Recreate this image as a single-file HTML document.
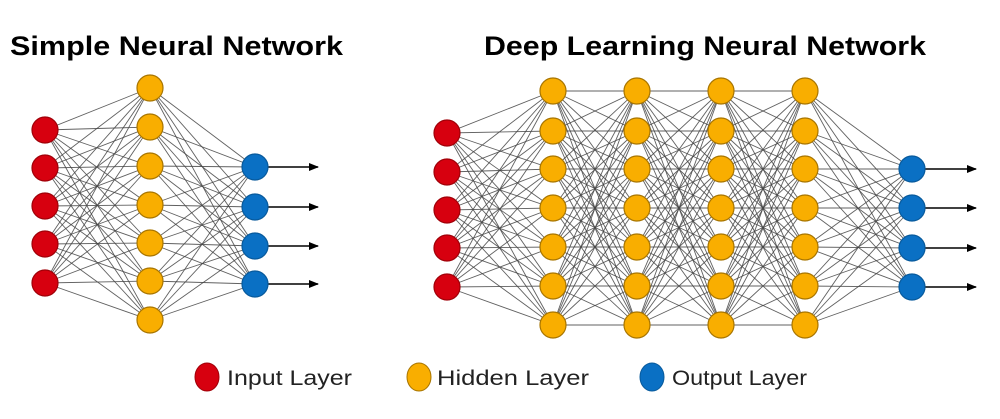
<!DOCTYPE html>
<html><head><meta charset="utf-8"><style>
html,body{margin:0;padding:0;background:#fff;}
svg{display:block;}
text{font-family:"Liberation Sans",sans-serif;}
</style></head><body>
<svg id="s" width="1000" height="419" viewBox="0 0 1000 419" xmlns="http://www.w3.org/2000/svg">
<defs><marker id="a" markerWidth="10" markerHeight="8" refX="9" refY="4" orient="auto" markerUnits="userSpaceOnUse"><path d="M0,0 L10,4 L0,8 z" fill="#000"/></marker></defs>
<g id="lines" stroke="#444" stroke-width="0.9" stroke-opacity="0.85"></g>
<g id="nodes"></g>
<text x="10" y="55" font-size="27" font-weight="bold" textLength="333" lengthAdjust="spacingAndGlyphs">Simple Neural Network</text>
<text x="484" y="55" font-size="27" font-weight="bold" textLength="442" lengthAdjust="spacingAndGlyphs">Deep Learning Neural Network</text>
<ellipse cx="207" cy="377" rx="12" ry="14" fill="#d7000f" stroke="#a00008"/>
<text x="227" y="385" font-size="21" fill="#222" textLength="125" lengthAdjust="spacingAndGlyphs">Input Layer</text>
<ellipse cx="419" cy="377" rx="12" ry="14" fill="#f9ae00" stroke="#a87500"/>
<text x="437" y="385" font-size="21" fill="#222" textLength="152" lengthAdjust="spacingAndGlyphs">Hidden Layer</text>
<ellipse cx="652" cy="377" rx="12" ry="14" fill="#0a70c4" stroke="#085a9c"/>
<text x="672" y="385" font-size="21" fill="#222" textLength="135" lengthAdjust="spacingAndGlyphs">Output Layer</text>
</svg>
<script>
var NS="http://www.w3.org/2000/svg";
var L=document.getElementById("lines"),N=document.getElementById("nodes");
var C={r:["#d7000f","#a00008"],h:["#f9ae00","#a87500"],o:["#0a70c4","#085a9c"]};
function col(x,ys,t){return {x:x,ys:ys,t:t};}
var simple=[col(45,[130,168,206,244,283],"r"),col(150,[88,127,166,205,243,281,320],"h"),col(255,[167,207,246,284],"o")];
var hy=[91,131,169,208,247,286,325];
var deep=[col(447,[133,172,210,248,287],"r"),col(553,hy,"h"),col(637,hy,"h"),col(721,hy,"h"),col(805,hy,"h"),col(912,[169,208,248,287],"o")];
function draw(net,arrowEnd){
 for(var i=0;i<net.length-1;i++){var a=net[i],b=net[i+1];
  a.ys.forEach(function(y1){b.ys.forEach(function(y2){
   var l=document.createElementNS(NS,"line");l.setAttribute("x1",a.x);l.setAttribute("y1",y1);l.setAttribute("x2",b.x);l.setAttribute("y2",y2);L.appendChild(l);});});}
 var o=net[net.length-1];
 o.ys.forEach(function(y){var l=document.createElementNS(NS,"line");l.setAttribute("x1",o.x);l.setAttribute("y1",y);l.setAttribute("x2",arrowEnd);l.setAttribute("y2",y);l.setAttribute("stroke","#000");l.setAttribute("stroke-width","1.5");l.setAttribute("stroke-opacity","1");l.setAttribute("marker-end","url(#a)");L.appendChild(l);});
 net.forEach(function(c){c.ys.forEach(function(y){var e=document.createElementNS(NS,"circle");e.setAttribute("cx",c.x);e.setAttribute("cy",y);e.setAttribute("r",13);e.setAttribute("fill",C[c.t][0]);e.setAttribute("stroke",C[c.t][1]);e.setAttribute("stroke-width","1.2");N.appendChild(e);});});
}
draw(simple,318);draw(deep,976);
</script>
</body></html>
